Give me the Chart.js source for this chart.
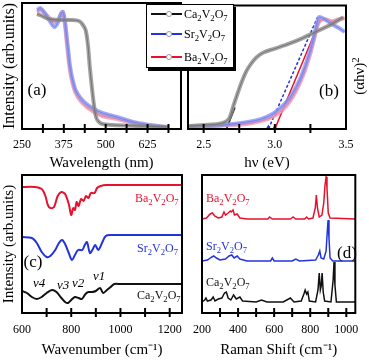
<!DOCTYPE html>
<html><head><meta charset="utf-8">
<script src="https://cdn.jsdelivr.net/npm/chart.js@4.4.0/dist/chart.umd.min.js"></script>
<style>
html,body{margin:0;padding:0;background:#fff;}
#wrap{position:relative;width:369px;height:364px;overflow:hidden;font-family:"Liberation Serif","Times New Roman",serif;color:#000;}
canvas{position:absolute;left:0;top:0;}
.t{position:absolute;white-space:nowrap;line-height:1;}
.c{transform:translate(-50%,-50%);}
.l{transform:translateY(-50%);}
sub{font-size:72%;vertical-align:-0.3em;line-height:0;}
sup{font-size:72%;vertical-align:0.45em;line-height:0;}
#leg{position:absolute;left:146px;top:4px;width:86px;height:62px;border:1px solid #000;background:#fff;box-shadow:2px 3px 0 #000;z-index:5;}
.row{position:absolute;left:0;width:86px;height:0;}
.sw{position:absolute;left:4px;width:31px;height:0;border-top:2px solid;top:-1px;}
.dot{position:absolute;left:19px;top:-3px;width:4px;height:4px;border-radius:50%;background:#fff;border:1px solid #999;}
.lt{position:absolute;left:37px;top:0;transform:translateY(-50%);font-size:12px;white-space:nowrap;line-height:1;}
</style></head><body><div id="wrap">
<canvas id="ca" width="369" height="364"></canvas>
<canvas id="cb" width="369" height="364"></canvas>
<canvas id="cc" width="369" height="364"></canvas>
<canvas id="cd" width="369" height="364"></canvas>
<div id="leg"></div>
<div class="t c" style="left:37px;top:89px;font-size:17px;">(a)</div>
<div class="t c" style="left:329px;top:90px;font-size:17px;">(b)</div>
<div class="t c" style="left:33px;top:261px;font-size:17px;">(c)</div>
<div class="t c" style="left:347px;top:252px;font-size:17px;">(d)</div>
<div class="t c" style="left:359px;top:76px;font-size:15px;transform:translate(-50%,-50%) rotate(-90deg);">(&alpha;h&nu;)<sup>2</sup></div>
<div id="labs"></div>
</div>
<script>
// ---------- data ----------
const SERIES = ['Ca', 'Sr', 'Ba'];
const COLORS = {Ca:'#111111', Sr:'#2233dd', Ba:'#e8112d'};
const LIGHT  = {Ca:'rgba(140,140,140,0.8)', Sr:'rgba(140,150,240,0.8)', Ba:'rgba(245,150,175,0.8)'};

// (a) absorbance vs wavelength (nm)
const A_WL_CA = [295,310,330,360,400,420,430,440,447,452,458,465,472,480,490,520,600,690];
const A_CA    = [115,113,110,109,109,108,105,99,84,64,44,24,11,7,5,4,3,2];
const A_WL    = [295,305,320,335,347,358,366,372,378,383,388,393,400,410,425,443,465,490,534,582,634,680];
const A_SR    = [119,121,115,107,102,107,115,117,109,94,79,64,51,39,31,25,20,16,12,7,4,2];
const A_BA    = [117,119,115,110,107,109,115,117,105,89,73,59,47,36,28,22,17,13,10,6,3,2];
const A_TICKS = [250,312.5,375,437.5,500,562.5,625,687.5];
const A_LABELS = [250,375,500,625];

// (b) Tauc plot, hv (eV)
const B_E_CA = [2.40,2.50,2.60,2.65,2.68,2.71,2.74,2.77,2.80,2.83,2.87,2.92,3.00,3.10,3.20,3.30,3.40,3.48];
const B_CA   = [3,4,5,7,11,24,37,49,59,66,73,78,82,87,93,100,107,114];
const B_E    = [2.40,2.55,2.70,2.80,2.90,2.98,3.05,3.10,3.15,3.20,3.25,3.28,3.31,3.35,3.40,3.45,3.49];
const B_SR   = [2,3,5,7,10,15,23,31,43,59,81,97,114,112,107,103,99];
const B_BA   = [3,3,4,5,8,12,19,27,39,55,77,94,109,112,110,112,113];
const B_FIT_CA_X = [2.66,2.72], B_FIT_CA_Y = [0,22];
const B_FIT_SR_X = [2.955,3.30], B_FIT_SR_Y = [0,114];
const B_FIT_BA_X = [3.0,3.32],   B_FIT_BA_Y = [0,112];
const B_TICKS = [2.39,2.5,2.75,3.0,3.25,3.5];
const B_LABELS = [2.5,3.0,3.5];

// (c) FTIR, wavenumber (cm-1)
const C_WN_BA = [600,650,680,695,705,715,730,745,760,775,790,800,808,815,822,830,840,850,860,870,880,895,905,920,940,1250];
const C_BA    = [126,126,124,117,108,105,106,117,121,119,109,98,105,103,111,107,114,112,117,115,120,120,125,127,128,128];
const C_WN_SR = [600,640,660,680,700,715,735,750,763,775,790,803,815,828,845,855,864,876,888,897,910,925,940,960,1250];
const C_SR    = [76,75,70,61,56,57,63,70,73,69,60,53,58,63,63,68,71,60,64,68,63,70,77,78,78];
const C_WN_CA = [600,620,640,660,680,700,722,740,760,775,787,800,815,830,843,858,870,885,900,917,930,945,960,975,1000,1250];
const C_CA    = [22,20,16,14,16,20,23,21,15,11,10,13,16,15,14,19,21,21,22,25,20,23,26,29,29,29];
const C_TICKS = [600,700,800,900,1000,1100,1200];
const C_LABELS = [600,800,1000,1200];

// (d) Raman shift (cm-1)
const D_RS_BA = [200,225,245,258,270,290,310,322,330,345,357,362,372,380,395,410,450,565,575,590,690,705,720,770,780,790,815,828,834,840,850,865,875,882,888,893,900,910,1050];
const D_BA    = [94,95,99,100,97,95,96,101,98,100,102,101,103,98,99,95,94,94,96,94,94,96,94,94,96,94,95,105,118,105,96,98,110,128,136,125,100,95,94];
const D_RS_SR = [200,230,255,265,280,300,330,350,365,378,395,410,450,580,590,600,700,720,740,830,845,853,860,875,888,894,899,904,910,925,1050];
const D_SR    = [52,53,56,57,55,53,54,57,58,55,57,54,52,52,55,52,52,54,52,53,58,62,55,54,62,80,93,75,55,52,52];
const D_RS_CA = [200,215,222,230,250,262,272,290,310,325,335,345,360,375,390,410,425,500,530,560,650,690,710,750,765,772,780,787,795,830,843,850,856,861,866,872,880,915,927,932,937,945,1050];
const D_CA    = [11,13,15,12,13,16,12,14,15,20,21,15,13,18,14,16,12,11,13,11,11,15,11,12,19,23,19,21,12,11,23,40,23,27,40,21,12,11,33,51,28,11,11];
const D_TICKS = [200,300,400,500,600,700,800,900,1000];
const D_LABELS = [200,400,600,800,1000];

// ---------- helpers ----------
const SERIF = '"Liberation Serif", serif';
Chart.defaults.font.family = SERIF;
Chart.defaults.color = '#000';
const FORMULA = s => s + '<sub>2</sub>V<sub>2</sub>O<sub>7</sub>';
const pts = (xs, ys) => xs.map((x, i) => ({x, y: ys[i]}));
const ln = (xs, ys, color, w, extra) => Object.assign({data: pts(xs, ys), borderColor: color, borderWidth: w, pointRadius: 0, fill: false, tension: 0.3}, extra || {});

const framePlugin = {
  id: 'frame',
  afterDraw(chart) {
    const {ctx, chartArea: a} = chart;
    const x = chart.scales.x;
    ctx.save();
    ctx.strokeStyle = '#000';
    ctx.lineWidth = 2;
    ctx.strokeRect(a.left, a.top, a.right - a.left, a.bottom - a.top);
    x.ticks.forEach(t => {
      const px = x.getPixelForValue(t.value);
      if (px <= a.left + 2 || px >= a.right - 2) return;
      ctx.beginPath();
      ctx.moveTo(px, a.bottom - 5);
      ctx.lineTo(px, a.bottom + 4);
      ctx.stroke();
    });
    ctx.restore();
  }
};

function xScale(min, max, ticks, labels, title, h, pad, fmt) {
  return {
    type: 'linear', min, max,
    afterBuildTicks(s) { s.ticks = ticks.map(v => ({value: v})); },
    ticks: {autoSkip: false, maxRotation: 0, padding: pad, color: '#000', font: {family: SERIF, size: 12},
      callback: v => labels.some(l => Math.abs(l - v) < 1e-9) ? (fmt ? fmt(v) : String(v)) : ''},
    grid: {display: false, drawTicks: false},
    border: {display: false},
    title: {display: true, text: title, color: '#000', font: {family: SERIF, size: 15}, padding: 0},
    afterFit(s) { s.height = h; }
  };
}
function yScale(max, title, size) {
  if (!title) return {min: 0, max, display: false};
  return {
    min: 0, max, position: 'left',
    ticks: {display: false}, grid: {display: false}, border: {display: false},
    title: {display: true, text: title, color: '#000', font: {family: SERIF, size}, padding: 0},
    afterFit(s) { s.width = 22; }
  };
}
function opts(pad, xs, ys) {
  return {responsive: false, animation: false, devicePixelRatio: 1, events: [],
    layout: {padding: pad},
    plugins: {legend: {display: false}, tooltip: {enabled: false}},
    scales: {x: xs, y: ys}};
}

function build() {
// ---------- (a) ----------
new Chart(document.getElementById('ca'), {
  type: 'line',
  data: {datasets: [
    ln(A_WL_CA, A_CA, LIGHT.Ca, 4), ln(A_WL_CA, A_CA, COLORS.Ca, 1),
    ln(A_WL, A_SR, LIGHT.Sr, 4), ln(A_WL, A_SR, COLORS.Sr, 1),
    ln(A_WL, A_BA, LIGHT.Ba, 4), ln(A_WL, A_BA, COLORS.Ba, 1)
  ]},
  options: opts({left: 0, top: 3, right: 188, bottom: 192},
    xScale(250, 725, A_TICKS, A_LABELS, 'Wavelength (nm)', 43, 9),
    yScale(126, 'Intensity (arb.units)', 16)),
  plugins: [framePlugin]
});

// ---------- (b) ----------
new Chart(document.getElementById('cb'), {
  type: 'line',
  data: {datasets: [
    ln(B_E_CA, B_CA, LIGHT.Ca, 4), ln(B_E_CA, B_CA, COLORS.Ca, 1),
    ln(B_E, B_SR, LIGHT.Sr, 4), ln(B_E, B_SR, COLORS.Sr, 1),
    ln(B_E, B_BA, LIGHT.Ba, 4), ln(B_E, B_BA, COLORS.Ba, 1),
    ln(B_FIT_CA_X, B_FIT_CA_Y, COLORS.Ca, 1.5, {tension: 0}),
    ln(B_FIT_SR_X, B_FIT_SR_Y, COLORS.Sr, 1.5, {tension: 0, borderDash: [3, 2], pointRadius: [3, 0], pointStyle: 'triangle', backgroundColor: COLORS.Sr, pointBorderColor: COLORS.Sr}),
    ln(B_FIT_BA_X, B_FIT_BA_Y, COLORS.Ba, 1.5, {tension: 0, pointRadius: [3, 0], pointStyle: 'triangle', backgroundColor: COLORS.Ba, pointBorderColor: COLORS.Ba})
  ]},
  options: opts({left: 188, top: 3, right: 23, bottom: 192},
    xScale(2.39, 3.5, B_TICKS, B_LABELS, 'h\u03BD (eV)', 43, 9, v => v.toFixed(1)),
    yScale(126)),
  plugins: [framePlugin]
});

// ---------- (c) ----------
new Chart(document.getElementById('cc'), {
  type: 'line',
  data: {datasets: [
    ln(C_WN_BA, C_BA, COLORS.Ba, 2),
    ln(C_WN_SR, C_SR, COLORS.Sr, 2),
    ln(C_WN_CA, C_CA, COLORS.Ca, 2)
  ]},
  options: opts({left: 0, top: 175, right: 187, bottom: 5},
    xScale(600, 1250, C_TICKS, C_LABELS, 'Wavenumber (cm\u207B\u00B9)', 46, 10),
    yScale(138, 'Intensity (arb.units)', 15)),
  plugins: [framePlugin]
});

// ---------- (d) ----------
new Chart(document.getElementById('cd'), {
  type: 'line',
  data: {datasets: [
    ln(D_RS_BA, D_BA, COLORS.Ba, 1.5, {tension: 0}),
    ln(D_RS_SR, D_SR, COLORS.Sr, 1.5, {tension: 0}),
    ln(D_RS_CA, D_CA, COLORS.Ca, 1.5, {tension: 0})
  ]},
  options: opts({left: 202, top: 175, right: 12, bottom: 5},
    xScale(200, 1050, D_TICKS, D_LABELS, 'Raman Shift (cm\u207B\u00B9)', 46, 10),
    yScale(138)),
  plugins: [framePlugin]
});
}

// ---------- legend & labels ----------
const LEG_Y = [9, 29, 52];
const leg = document.getElementById('leg');
SERIES.forEach((s, i) => {
  const r = document.createElement('div');
  r.className = 'row';
  r.style.top = LEG_Y[i] + 'px';
  r.innerHTML = '<div class="sw" style="border-color:' + COLORS[s] + '"></div><div class="dot"></div><div class="lt">' + FORMULA(s) + '</div>';
  leg.appendChild(r);
});
const LABS = [
  [FORMULA('Ba'), 135, 198, COLORS.Ba, 12],
  [FORMULA('Sr'), 137, 248, COLORS.Sr, 12],
  [FORMULA('Ca'), 137, 295, COLORS.Ca, 12],
  [FORMULA('Ba'), 206, 198, COLORS.Ba, 12],
  [FORMULA('Sr'), 206, 246, COLORS.Sr, 12],
  [FORMULA('Ca'), 206, 282, COLORS.Ca, 12],
  ['v4', 33, 282, '#000', 13, true],
  ['v3', 57, 284, '#000', 13, true],
  ['v2', 72, 282, '#000', 13, true],
  ['v1', 93, 275, '#000', 13, true]
];
const labs = document.getElementById('labs');
LABS.forEach(([txt, x, y, col, sz, it]) => {
  const d = document.createElement('div');
  d.className = 't l';
  d.style.cssText = 'left:' + x + 'px;top:' + y + 'px;color:' + col + ';font-size:' + sz + 'px;' + (it ? 'font-style:italic;' : '');
  d.innerHTML = txt;
  labs.appendChild(d);
});

if (document.fonts && document.fonts.load) {
  document.fonts.load('12px "Liberation Serif"').then(build, build);
} else {
  build();
}
</script>
</body></html>
